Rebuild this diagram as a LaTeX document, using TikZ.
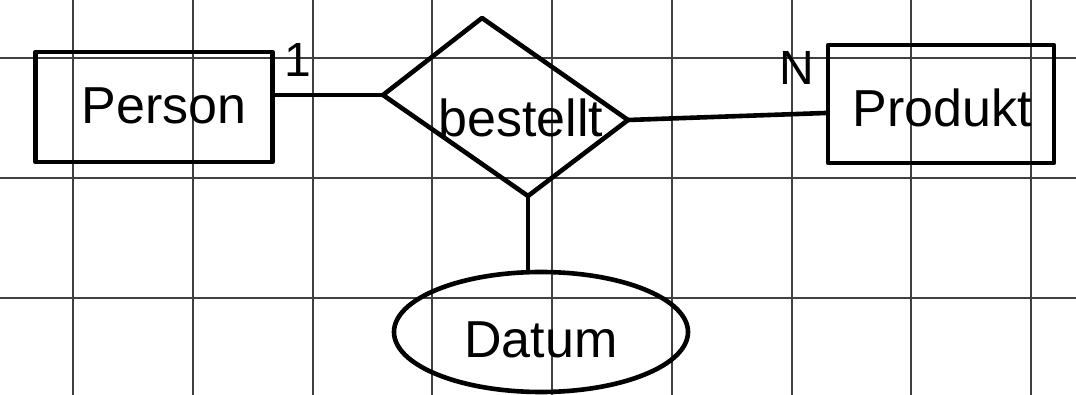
\documentclass[tikz,border=0pt]{standalone}
\usepackage{fontspec}
\setmainfont{Liberation Sans}
\usetikzlibrary{shapes.geometric}
\begin{document}
\begin{tikzpicture}[x=1pt,y=-1pt,
  gridline/.style={draw=black!75,line width=1.6pt},
  ink/.style={draw=black,line width=4.6pt,line join=round,line cap=round},
  entity/.style={ink,rectangle,inner sep=0pt},
  attrib/.style={ink,ellipse,inner sep=0pt},
  lbl/.style={font=\fontsize{52}{60}\selectfont,inner sep=0pt},
  card/.style={font=\fontsize{48}{56}\selectfont,inner sep=0pt}]
\useasboundingbox (0,0) rectangle (1076,395);
\fill[white] (0,0) rectangle (1076,395);
% grid
\foreach \gx in {73,193,313,432,552,672,792,911,1031}
  \draw[gridline] (\gx,0) -- (\gx,395);
\foreach \gy in {58,178,298}
  \draw[gridline] (0,\gy) -- (1076,\gy);
% entities
\node[entity,minimum width=237pt,minimum height=110pt] (Person) at (154,107) {};
\node[lbl] (PersonText) at (164,106) {Person};
\node[entity,minimum width=226pt,minimum height=118pt] (Produkt) at (941,104) {};
\node[lbl] (ProduktText) at (942,108) {Produkt};
% relationship diamond
\coordinate (dl) at (383,95);
\coordinate (dt) at (482,18);
\coordinate (dr) at (628,120);
\coordinate (db) at (528,196);
\draw[ink] (dl) -- (dt) -- (dr) -- (db) -- cycle;
\node[lbl] (Rel) at (521,118) {bestellt};
% attribute
\node[attrib,minimum width=294pt,minimum height=120pt] (Datum) at (541,332) {};
\node[lbl] (DatumText) at (541,340) {Datum};
% connectors
\draw[ink] (Person.east |- dl) -- (dl);
\draw[ink] (dr) -- ([yshift=-9pt]Produkt.west);
\draw[ink] (db) -- (db |- Datum.north);
% cardinalities
\node[card] (c1) at (298,60) {1};
\node[card] (cN) at (797,68) {N};
\end{tikzpicture}
\end{document}
